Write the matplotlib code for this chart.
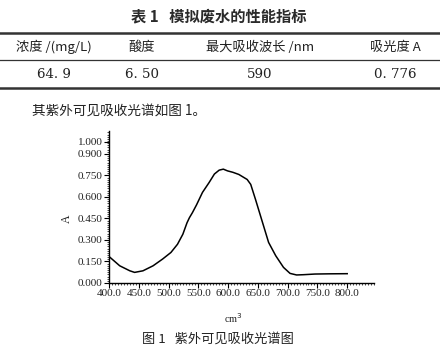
import matplotlib
matplotlib.use("Agg")
import matplotlib.pyplot as plt
from matplotlib.lines import Line2D
from matplotlib.ticker import MultipleLocator

# table 1 contents
headers = ["浓度 /(mg/L)", "酸度", "最大吸收波长 /nm", "吸光度 A"]
row = ["64. 9", "6. 50", "590", "0. 776"]

# UV-Vis spectrum
wavelength = [400, 418, 435, 443, 457, 474, 490, 504, 515, 524, 531, 535, 540,
              547, 557, 568, 577, 585, 592, 599, 608, 618, 632, 638, 646, 657,
              668, 680, 693, 704, 715, 727, 746, 770, 800]
absorbance = [0.185, 0.12, 0.085, 0.074, 0.085, 0.12, 0.167, 0.213, 0.27, 0.34,
              0.42, 0.455, 0.49, 0.545, 0.632, 0.70, 0.76, 0.787, 0.794, 0.782,
              0.772, 0.757, 0.722, 0.6875, 0.583, 0.433, 0.283, 0.19, 0.109,
              0.067, 0.056, 0.058, 0.0625, 0.064, 0.065]

xticks = [400, 450, 500, 550, 600, 650, 700, 750, 800]
yticks = [0.0, 0.15, 0.30, 0.45, 0.60, 0.75, 0.90, 0.985]
ytick_labels = ["0.000", "0.150", "0.300", "0.450", "0.600", "0.750", "0.900", "1.000"]

cjk = ["Noto Sans CJK SC", "DejaVu Sans"]
serif = ["Liberation Serif", "DejaVu Serif"]

W, H = 440, 353
fig = plt.figure(figsize=(W / 100, H / 100), dpi=100)


def fx(px):
    return px / W


def fy(py):
    return 1 - py / H


# table
fig.text(fx(219), fy(16), "表 1   模拟废水的性能指标", family=cjk, fontsize=11,
         weight="bold", ha="center", va="center", color="#2a2a2a")
for y, lw in [(33, 1.8), (60, 0.9), (88, 1.8)]:
    fig.add_artist(Line2D([0, 1], [fy(y), fy(y)], color="#333333", lw=lw))

col_x = [54, 142, 260, 395]
for x, h, v in zip(col_x, headers, row):
    fig.text(fx(x), fy(47), h, family=cjk, fontsize=9.5, ha="center",
             va="center", color="#222222")
    fig.text(fx(x), fy(74), v, family=["DejaVu Serif"], fontsize=9.6,
             ha="center", va="center", color="#222222")

fig.text(fx(32), fy(111), "其紫外可见吸收光谱如图 1。", family=cjk,
         fontsize=9.8, ha="left", va="center", color="#222222")

# spectrum
ax = fig.add_axes([fx(109), fy(283), fx(374) - fx(109), fy(131) - fy(283)])
ax.plot(wavelength, absorbance, color="black", lw=1.1)
ax.set_xlim(400, 845)
ax.set_ylim(0, 1.06)
ax.set_xticks(xticks)
ax.set_xticklabels([f"{t:.1f}" for t in xticks])
ax.set_yticks(yticks)
ax.set_yticklabels(ytick_labels)
ax.xaxis.set_minor_locator(MultipleLocator(5))
ax.yaxis.set_minor_locator(MultipleLocator(0.015))
for side in ["top", "right"]:
    ax.spines[side].set_visible(False)
for side in ["left", "bottom"]:
    ax.spines[side].set_linewidth(1.0)
ax.tick_params(which="major", direction="out", length=3.5, width=0.8,
               labelsize=8, pad=1, labelcolor="#222222")
ax.tick_params(which="minor", direction="out", length=1.2, width=0.5)
for lab in ax.get_xticklabels() + ax.get_yticklabels():
    lab.set_family(serif)

fig.text(fx(67), fy(219), "A", family=serif, fontsize=8.5, rotation=90,
         ha="center", va="center", color="#222222")
fig.text(fx(233), fy(318), "cm$^{3}$", family=serif, fontsize=7.5,
         ha="center", va="center", color="#222222")

fig.text(fx(218), fy(339), "图 1   紫外可见吸收光谱图", family=cjk,
         fontsize=9.5, ha="center", va="center", color="#222222")

fig.savefig("out.png", dpi=100, facecolor="white")
